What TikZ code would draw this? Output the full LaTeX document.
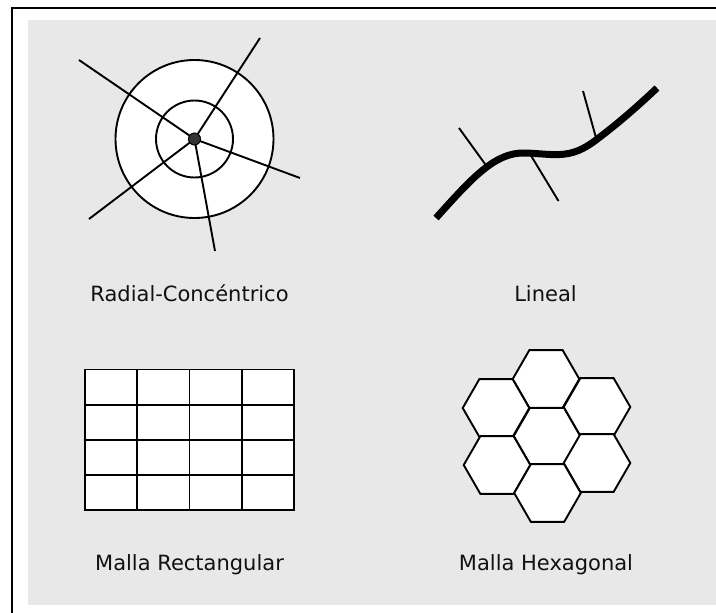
\documentclass[tikz,border=0pt]{standalone}
\usepackage{fontspec}
\setmainfont{DejaVu Sans}
\definecolor{panelgray}{HTML}{E8E8E8}
\definecolor{dotgray}{HTML}{333333}
\definecolor{labeltext}{HTML}{111111}
\tikzset{
  figline/.style={line width=1.9pt, black},
  cellbox/.style={figline, fill=white},
  roadline/.style={line width=7pt, black},
  caption/.style={anchor=base, text=labeltext, font=\fontsize{21}{25}\selectfont, inner sep=0pt}
}
\begin{document}
\begin{tikzpicture}[x=1pt, y=-1pt]
  \useasboundingbox (0,0) rectangle (716,613);

  % 1. marco exterior y panel gris
  \draw[line width=1.8pt] (12,613) -- (12,8) -- (716,8);
  \fill[panelgray] (28,20) rectangle (716,605);

  % 2. radial-concentrico
  \coordinate (rc) at (194.5,139);
  \draw[cellbox] (rc) circle (79);
  \draw[figline] (rc) circle (38.5);
  \foreach \px/\py in {79/60, 260/38, 300/178, 215/251, 89/219}
    \draw[figline] (rc) -- (\px,\py);
  \fill[dotgray] (rc) circle (6); \draw[line width=1pt] (rc) circle (6);
  \node[caption] (radlabel) at (189.5,301.7) {Radial-Concéntrico};

  % 3. lineal
  \draw[figline] (459,128) -- (486.5,166);
  \draw[figline] (530,154) -- (558.5,201);
  \draw[figline] (583,91) -- (596.5,139.5);
  \draw[roadline] (436,218) .. controls (472,178) and (495,152) .. (525,153)
    .. controls (555,154) and (570,160) .. (596,140)
    .. controls (620,122) and (640,104) .. (657,88);
  \node[caption] (linlabel) at (545.5,301.7) {Lineal};

  % 4. malla rectangular (4 x 4 celdas)
  \foreach \i in {0,...,3}
    \foreach \j in {0,...,3}
      \draw[cellbox] ({85+52.25*\i},{369.5+35.1*\j}) rectangle ++(52.25,35.1);
  \node[caption] (rectlabel) at (189.5,570) {Malla Rectangular};

  % 5. malla hexagonal (7 celdas)
  \foreach \cx/\cy in {547/436, 546/379, 496/408, 597/407, 497/465, 597/463, 547.5/493}
    \draw[cellbox] (\cx,\cy) +(0:33.3) -- +(60:33.3) -- +(120:33.3) -- +(180:33.3)
      -- +(240:33.3) -- +(300:33.3) -- cycle;
  \node[caption] (hexlabel) at (546,570) {Malla Hexagonal};
\end{tikzpicture}
\end{document}
